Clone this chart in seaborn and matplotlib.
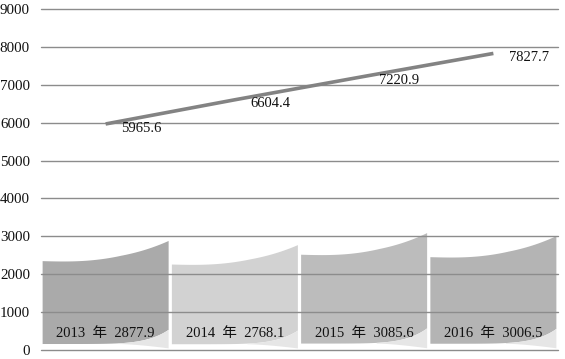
import numpy as np
import pandas as pd
import matplotlib
matplotlib.use("Agg")
import matplotlib.pyplot as plt
import seaborn as sns
from matplotlib.patches import Polygon
from matplotlib.transforms import blended_transform_factory

years = ["2013", "2014", "2015", "2016"]
bar_values = [2877.9, 2768.1, 3085.6, 3006.5]
line_values = [5965.6, 6604.4, 7220.9, 7827.7]
bar_colors = ["#aaaaaa", "#d2d2d2", "#bcbcbc", "#b4b4b4"]
y_ticks = [0, 1000, 2000, 3000, 4000, 5000, 6000, 7000, 8000, 9000]

sns.set_theme(style="white")
plt.rcParams["font.family"] = ["Liberation Serif", "Noto Sans CJK SC"]

fig = plt.figure(figsize=(5.65, 3.59), dpi=100)
ax = fig.add_axes([41 / 565, 1 - 350 / 359, 517 / 565, 341 / 359])

df = pd.DataFrame({"year": years, "bar": bar_values, "line": line_values})
sns.barplot(data=df, x="year", y="bar", hue="year", palette=bar_colors,
            width=0.975, legend=False, ax=ax, errorbar=None)

# replace rectangular bars with decorative curled shapes derived from each bar
for p, c in zip(list(ax.patches), bar_colors):
    x0 = p.get_x()
    w = p.get_width()
    v = p.get_height()
    p.set_visible(False)
    t = np.linspace(0, 1, 80)
    top = v * (0.815 - 0.006 * np.sin(np.pi * t * 1.6) * (t < 0.62) + 0.185 * t ** 2.8)
    bot = v * (0.055 + 0.13 * t ** 6)
    xs = x0 + w * t
    poly = np.vstack([np.column_stack([xs, top]), np.column_stack([xs[::-1], bot[::-1]])])
    ax.add_patch(Polygon(poly, closed=True, facecolor=c, edgecolor="none", zorder=2))
    # light curl beneath the right part
    t2 = np.linspace(0.6, 1, 40)
    xs2 = x0 + w * t2
    b2 = v * (0.055 + 0.13 * t2 ** 6)
    low = v * (0.055 - 0.04 * ((t2 - 0.6) / 0.4) ** 1.5)
    poly2 = np.vstack([np.column_stack([xs2, b2]), np.column_stack([xs2[::-1], low[::-1]])])
    ax.add_patch(Polygon(poly2, closed=True, facecolor="#e6e6e6", edgecolor="none", zorder=2))

sns.pointplot(data=df, x="year", y="line", color="#838383", markers="",
              linewidth=2.6, errorbar=None, ax=ax)
for line in ax.lines:
    line.set_zorder(5)
    line.set_solid_capstyle("butt")

for i, v in enumerate(line_values):
    ax.annotate(f"{v:.1f}", xy=(i, v), xytext=(11, -3), textcoords="offset points",
                ha="left", va="center", fontsize=10.5, color="#111111", zorder=6)

trans = blended_transform_factory(ax.transData, ax.transAxes)
for i, (yr, v) in enumerate(zip(years, bar_values)):
    ax.text(i, 0.047, f"{yr}  年  {v:.1f}", transform=trans, ha="center", va="center",
            fontsize=10.5, color="#111111", zorder=6)

ax.set_xlim(-0.5, 3.5)
ax.set_ylim(0, 9000)
ax.set_yticks(y_ticks)
ax.set_yticklabels([str(t) for t in y_ticks], fontsize=10.8, color="#111111")
ax.tick_params(axis="y", length=0, pad=8)
ax.set_xticks([])
ax.set_xlabel("")
ax.set_ylabel("")
for s in ax.spines.values():
    s.set_visible(False)
for t in y_ticks:
    ax.axhline(t, color="#8c8c8c", lw=1.0, zorder=3, clip_on=False)

fig.savefig("out.png", dpi=100)
